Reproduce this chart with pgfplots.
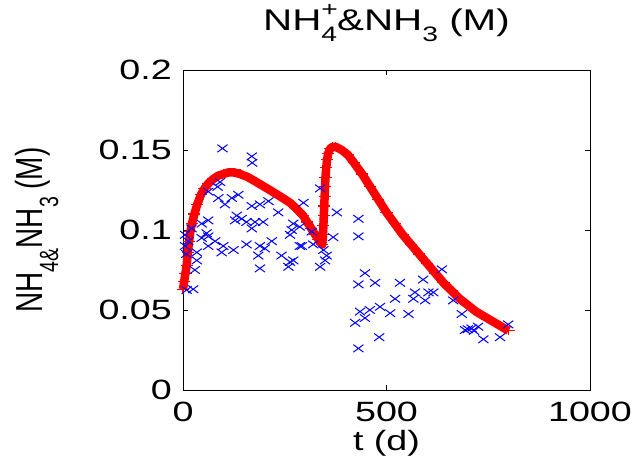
\documentclass[border=0pt]{standalone}
\usepackage{fontspec}
\setmainfont[FakeStretch=1.35]{Liberation Sans}
\newfontfamily\plainfont{Liberation Sans}
\usepackage{graphicx}
\usepackage{pgfplots}
\pgfplotsset{compat=1.18}
\newcommand{\lo}[1]{\raisebox{-0.4em}{\scalebox{0.7}{#1}}}
\newcommand{\hi}[1]{\raisebox{0.45em}{\scalebox{0.7}{#1}}}
\pgfplotstableread{
t y
0 0.063
3 0.068
6 0.073
9 0.078
12 0.086
15 0.093
18 0.099
22 0.104
28 0.110
35 0.116
44 0.122
53 0.126
62 0.129
75 0.132
87 0.134
100 0.135
111 0.136
125 0.136
140 0.135
160 0.133
180 0.130
200 0.127
226 0.123
245 0.120
263 0.117
280 0.113
295 0.109
305 0.105
315 0.101
325 0.097
333 0.094
338 0.092
342 0.091
344 0.097
345 0.103
346 0.109
347 0.115
348 0.121
349 0.127
350 0.133
352 0.139
354 0.144
357 0.148
362 0.151
368 0.152
375 0.152
390 0.150
405 0.147
420 0.142
440 0.135
460 0.127
480 0.119
500 0.111
520 0.104
540 0.097
560 0.091
580 0.085
600 0.079
620 0.073
640 0.067
660 0.062
680 0.057
700 0.053
720 0.049
740 0.046
760 0.043
780 0.040
800 0.037
}\model
\pgfplotstableread{
t y
97 0.151
169 0.146
170 0.142
91 0.130
85 0.127
62 0.124
87 0.120
136 0.122
120 0.120
103 0.116
169 0.115
189 0.116
210 0.118
234 0.111
132 0.109
128 0.106
144 0.107
177 0.105
156 0.105
197 0.105
169 0.101
62 0.106
46 0.104
21 0.101
58 0.098
62 0.096
46 0.095
79 0.093
5 0.097
13 0.093
5 0.090
8 0.085
62 0.090
99 0.090
95 0.086
124 0.0875
156 0.091
189 0.090
201 0.0885
218 0.093
185 0.084
34 0.086
34 0.081
242 0.084
263 0.080
259 0.077
189 0.076
29 0.075
25 0.063
9 0.0625
287 0.090
271 0.104
267 0.100
263 0.097
337 0.126
378 0.111
431 0.107
431 0.096
369 0.0955
296 0.117
287 0.102
316 0.099
292 0.090
320 0.091
345 0.0875
353 0.084
349 0.081
337 0.077
271 0.081
447 0.073
431 0.066
472 0.067
636 0.0754
533 0.067
590 0.069
570 0.061
603 0.061
615 0.061
566 0.057
595 0.056
521 0.057
435 0.049
459 0.050
484 0.052
509 0.048
554 0.0475
447 0.045
423 0.042
482 0.033
431 0.026
685 0.0475
664 0.056
709 0.0385
693 0.0375
738 0.0317
799 0.041
779 0.033
725 0.0396
700 0.038
715 0.037
}\meas
\begin{document}
\begin{tikzpicture}
\begin{axis}[name=ax, scale only axis, width=407bp, height=320bp,
  xmin=0, xmax=1000, ymin=0, ymax=0.2,
  xtick={0,500,1000}, xticklabels={0,500,1000},
  ytick={0,0.05,0.1,0.15,0.2}, yticklabels={0,0.05,0.1,0.15,0.2},
  tick align=inside, major tick length=5bp,
  axis line style={line width=0.8bp},
  every tick/.style={black, line width=0.8bp},
  tick label style={font=\fontsize{28}{30}\selectfont},
  xticklabel style={anchor=base, yshift=-31bp},
  yticklabel style={anchor=east, inner sep=0pt, xshift=-11bp},
  title={NH\makebox[0pt][l]{\hi{+}}\lo{4}\&NH\lo{3} (M)},
  title style={font=\fontsize{30}{32}\selectfont, at={(axis description cs:0.5,1.10625)}, anchor=base, inner sep=0pt},
  xlabel={t (d)},
  xlabel style={font=\fontsize{28}{30}\selectfont, at={(axis description cs:0.5,-0.19)}, anchor=base, inner sep=0pt},
  ylabel={\scalebox{1}[1.35]{\plainfont NH\lo{4\&}NH\lo{3} (M)}},
  ylabel style={font=\fontsize{28}{30}\selectfont, at={(axis description cs:-0.344,0.5)}, anchor=base, inner sep=0pt},
  clip=false]
\addplot[red, line width=8.5bp, line join=round, mark=+, mark size=4.5bp,
  mark options={line width=1.3bp, xscale=1.35}] table[x=t, y=y] {\model};
\addplot[blue, only marks, mark=x, mark size=5.3bp,
  mark options={line width=1bp, xscale=1.35}] table[x=t, y=y] {\meas};
\end{axis}
\pgfresetboundingbox
\path ([xshift=-183bp,yshift=-73bp]ax.south west) rectangle ([xshift=48bp,yshift=70bp]ax.north east);
\end{tikzpicture}
\end{document}
